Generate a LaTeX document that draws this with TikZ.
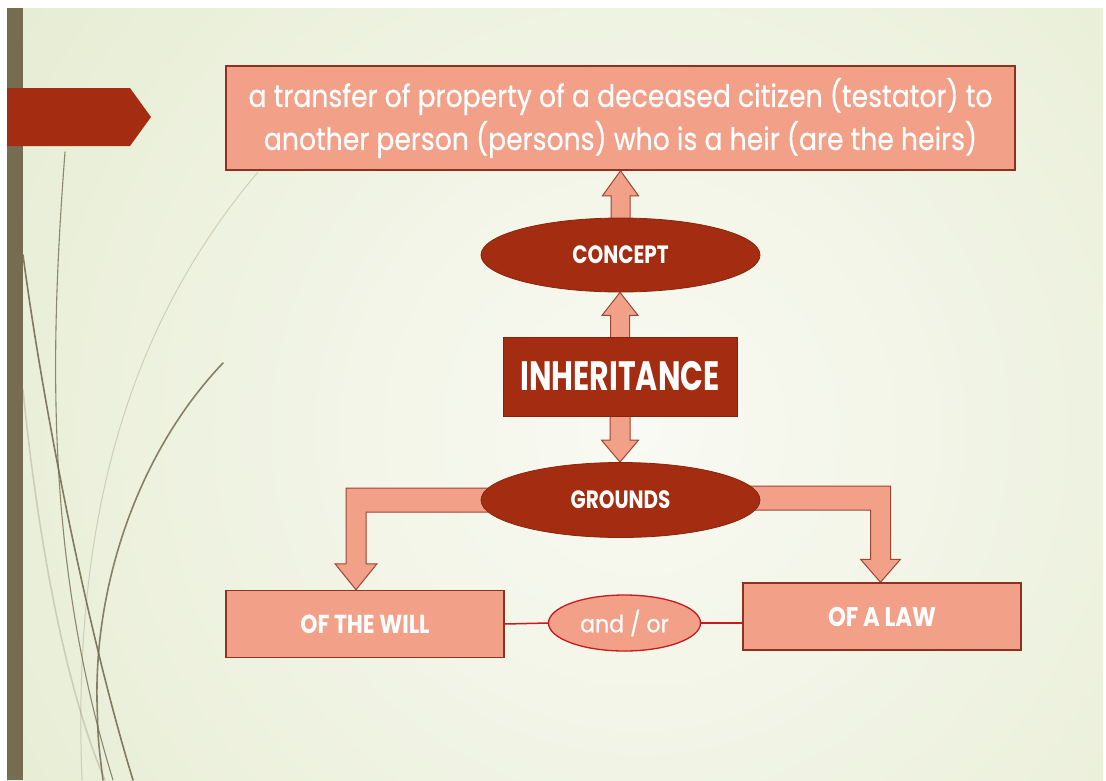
\documentclass[tikz,border=0pt]{standalone}
\usepackage{fontspec}
\setmainfont{Poppins}
\newfontfamily\medfont[FakeBold=0.6]{Poppins}
\usetikzlibrary{shapes.geometric,calc}

\definecolor{salmon}{HTML}{F3A089}
\definecolor{rust}{HTML}{A42C10}
\definecolor{rustline}{HTML}{8E3220}
\definecolor{olive}{HTML}{756C52}
\definecolor{bgout}{HTML}{DBE4BF}
\definecolor{bgin}{HTML}{F9FAF3}
\definecolor{linkred}{HTML}{C8191E}

\pgfdeclarelayer{back}
\pgfdeclarelayer{arrowlayer}
\pgfsetlayers{back,arrowlayer,main}

\tikzset{
  lightbox/.style={rectangle, fill=salmon, draw=rustline, line width=1.5pt,
    text=white, inner sep=0pt, align=center},
  darkbox/.style={rectangle, fill=rust, draw=rust!80!black, line width=1pt,
    text=white, inner sep=0pt},
  darkoval/.style={ellipse, fill=rust, draw=rust!85!black, line width=0.8pt,
    text=white, inner sep=0pt},
  linkoval/.style={ellipse, fill=salmon, draw=linkred, line width=1.3pt,
    text=white, inner sep=0pt},
  blockarrow/.style={fill=salmon, draw=rustline!90, line width=1pt, line join=miter},
  link/.style={draw=linkred, line width=1.5pt},
  grass/.style={draw=olive, line cap=round},
}

% vertical block arrow pointing up: tail #1, tip #2, head length #3
\newcommand\upblock[3]{%
  \path[blockarrow] let \p1=(#1), \p2=(#2) in
    (\x1-9.5pt,\y1) -- (\x1-9.5pt,\y2-#3) -- (\x1-18pt,\y2-#3) -- (\x1,\y2)
    -- (\x1+18pt,\y2-#3) -- (\x1+9.5pt,\y2-#3) -- (\x1+9.5pt,\y1);}
% vertical block arrow pointing down
\newcommand\downblock[3]{%
  \path[blockarrow] let \p1=(#1), \p2=(#2) in
    (\x1-10pt,\y1) -- (\x1-10pt,\y2+#3) -- (\x1-18.5pt,\y2+#3) -- (\x1,\y2)
    -- (\x1+18.5pt,\y2+#3) -- (\x1+10pt,\y2+#3) -- (\x1+10pt,\y1);}

\begin{document}
\begin{tikzpicture}[x=1pt, y=-1pt]
\useasboundingbox (0,0) rectangle (1106,780);

% slide background
\begin{pgfonlayer}{back}
  \fill[white] (0,0) rectangle (1106,780);
  \begin{scope}
    \clip (7,8) rectangle (1103,780);
    \fill[bgout] (7,8) rectangle (1103,780);
    \shade[inner color=bgin, outer color=bgout] (640,430) circle[radius=1250pt];
  \end{scope}
  % grass strands
  \draw[grass, line width=1.6pt, opacity=0.9] (23,255) .. controls (45,420) and (90,640) .. (133,780);
  \draw[grass, line width=1.1pt, opacity=0.8] (65,152) .. controls (50,350) and (45,560) .. (113,780);
  \draw[grass, line width=1pt, opacity=0.25] (258,172) .. controls (150,300) and (70,480) .. (82,780);
  \draw[grass, line width=1.6pt, opacity=0.85] (223,363) .. controls (140,450) and (95,580) .. (97,700) .. controls (98,740) .. (103,780);
  \draw[grass, line width=1.6pt, opacity=0.25] (23,390) .. controls (40,560) and (70,700) .. (105,780);
  % side bar and tab
  \fill[olive] (7,8) rectangle (23,780);
  \fill[rust] (7,88) -- (130,88) -- (151,117) -- (130,146) -- (7,146) -- cycle;
\end{pgfonlayer}

% nodes
\node[lightbox, minimum width=789pt, minimum height=104pt,
      font={\medfont\fontsize{31}{43}\selectfont}] (def) at (620.5,118)
  {\scalebox{0.86}[1]{a transfer of property of a deceased citizen (testator) to}\\
   \scalebox{0.86}[1]{another person (persons) who is a heir (are the heirs)}};
\node[darkoval, minimum width=279pt, minimum height=74pt,
      font={\fontsize{25}{25}\selectfont\bfseries}] (concept) at (620.5,255)
  {\scalebox{0.8}[1]{CONCEPT}};
\node[darkbox, minimum width=234pt, minimum height=79pt,
      font={\fontsize{41}{41}\selectfont\bfseries}] (inh) at (620,376.5)
  {\scalebox{0.73}[1]{INHERITANCE}};
\node[darkoval, minimum width=279pt, minimum height=75pt,
      font={\fontsize{25}{25}\selectfont\bfseries}] (grounds) at (620.5,500)
  {\scalebox{0.8}[1]{GROUNDS}};
\node[lightbox, minimum width=278pt, minimum height=67pt,
      font={\fontsize{26}{26}\selectfont\bfseries}] (will) at (365,624)
  {\scalebox{0.84}[1]{OF THE WILL}};
\node[lightbox, minimum width=278pt, minimum height=67pt,
      font={\fontsize{27}{27}\selectfont\bfseries}] (law) at (882,616.5)
  {\scalebox{0.84}[1]{OF A LAW}};
\node[linkoval, minimum width=152pt, minimum height=56pt,
      font={\medfont\fontsize{24}{24}\selectfont}] (andor) at (624.5,623)
  {\scalebox{0.92}[1]{and / or}};

% links between the two grounds
\draw[link] (will.east) -- (andor.west);
\draw[link] (andor.east) -- (andor.east -| law.west);

% block arrows
\begin{pgfonlayer}{arrowlayer}
  \upblock{concept.center}{def.south}{25pt}
  \upblock{inh.center}{concept.south}{23pt}
  \downblock{inh.center}{grounds.north}{22pt}
  \path[blockarrow] let \p1=(grounds.center), \p2=($(will.north)+(-9,0)$) in
    (\x1,\y1+12pt) -- (\x2-10pt,\y1+12pt) -- (\x2-10pt,\y2+26pt) -- (\x2-21pt,\y2+26pt)
    -- (\x2,\y2) -- (\x2+21pt,\y2+26pt) -- (\x2+10pt,\y2+26pt) -- (\x2+10pt,\y1-12pt)
    -- (\x1,\y1-12pt);
  \path[blockarrow] let \p1=(grounds.center), \p2=($(law.north)+(-1.5,0)$) in
    (\x1,\y1+14pt) -- (\x2+10pt,\y1+14pt) -- (\x2+10pt,\y2+23pt) -- (\x2+20pt,\y2+23pt)
    -- (\x2,\y2) -- (\x2-20pt,\y2+23pt) -- (\x2-10pt,\y2+23pt) -- (\x2-10pt,\y1-10pt)
    -- (\x1,\y1-10pt);
\end{pgfonlayer}
\end{tikzpicture}
\end{document}
